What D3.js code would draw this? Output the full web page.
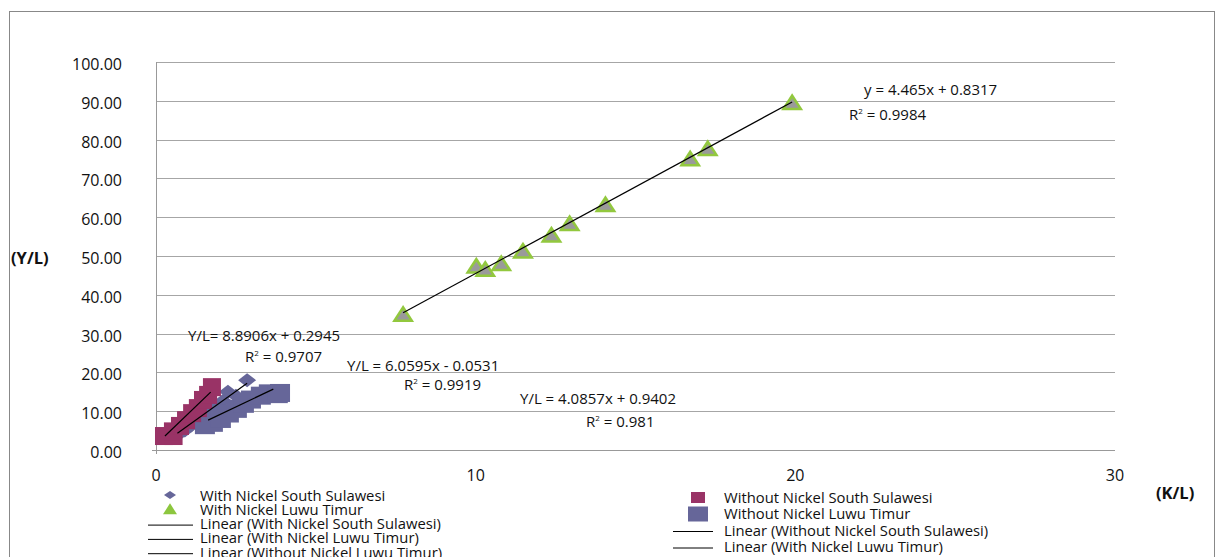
<!DOCTYPE html>
<meta charset="utf-8">
<style>
body { margin: 0; background: #fff; }
text { font-family: "Open Sans", "Noto Sans", sans-serif; fill: #111; }
.grid line { stroke: #a6a6a6; stroke-width: 1px; }
.trend { stroke: #000; stroke-width: 1.2px; fill: none; }
</style>
<svg width="1215" height="557"></svg>
<script src="https://cdn.jsdelivr.net/npm/d3@7/dist/d3.min.js"></script>
<script>

// With Nickel South Sulawesi (diamonds)
var withSS = [[0.7,4.0],[0.9,5.0],[1.1,6.3],[1.3,7.5],[1.5,8.8],[1.7,10.0],[1.9,11.3],[2.1,12.7],[2.25,15.0],[2.5,14.0],[2.85,18.0]];
// With Nickel Luwu Timur (triangles)
var withLT = [[7.73,34.8],[10.02,47.2],[10.3,46.4],[10.8,47.9],[11.48,51.1],[12.37,55.2],[12.94,58.2],[14.06,63.1],[16.71,74.9],[17.26,77.5],[19.9,89.4]];
// Without Nickel South Sulawesi (magenta squares)
var withoutSS = [[0.25,3.6],[0.55,3.6],[0.53,4.8],[0.75,6.2],[0.94,7.7],[1.13,9.5],[1.31,10.8],[1.47,12.9],[1.63,14.2],[1.75,16.2]];
// Without Nickel Luwu Timur (purple squares)
var withoutLT = [[1.53,6.4],[1.78,7.0],[2.03,8.0],[2.28,9.4],[2.53,10.6],[2.75,11.9],[2.97,13.0],[3.28,14.0],[3.53,14.6],[3.81,14.4],[3.88,14.7]];

// trendline end points [x0,y0,x1,y1]
var trends = [
  [0.67, 4.3, 2.85, 17.2],
  [7.73, 35.35, 19.9, 89.7],
  [0.28, 3.6, 1.71, 14.9],
  [1.63, 7.7, 3.67, 15.7]
];

var yTicks = [0,10,20,30,40,50,60,70,80,90,100];
var xTicks = [0,10,20,30];

var notes = [
  {t: "y = 4.465x + 0.8317", x: 864, y: 95},
  {t: "R", sup: "2", rest: " = 0.9984", x: 849, y: 120},
  {t: "Y/L= 8.8906x + 0.2945", x: 188, y: 341},
  {t: "R", sup: "2", rest: " = 0.9707", x: 245, y: 362},
  {t: "Y/L = 6.0595x - 0.0531", x: 347, y: 371},
  {t: "R", sup: "2", rest: " = 0.9919", x: 404, y: 390},
  {t: "Y/L = 4.0857x + 0.9402", x: 520, y: 404},
  {t: "R", sup: "2", rest: " = 0.981", x: 586, y: 427}
];

var svg = d3.select("svg");

var x = d3.scaleLinear().domain([0, 30]).range([156, 1115]),
    y = d3.scaleLinear().domain([0, 100]).range([450, 62]);

// outer border
svg.append("rect")
    .attr("x", 9.5).attr("y", 11.5)
    .attr("width", 1205).attr("height", 560)
    .attr("fill", "none").attr("stroke", "#888");

// gridlines
svg.append("g").attr("class", "grid")
  .selectAll("line").data(yTicks.slice(1)).enter().append("line")
    .attr("x1", x(0)).attr("x2", x(30))
    .attr("y1", function(d) { return Math.round(y(d)) + 0.5; })
    .attr("y2", function(d) { return Math.round(y(d)) + 0.5; });

// axes
svg.append("line").attr("x1", x(0) + 0.5).attr("x2", x(0) + 0.5)
    .attr("y1", y(100)).attr("y2", y(0) + 4).attr("stroke", "#999");
svg.append("line").attr("x1", x(0) - 4).attr("x2", x(30))
    .attr("y1", Math.round(y(0)) + 0.5).attr("y2", Math.round(y(0)) + 0.5).attr("stroke", "#999");

svg.append("g").selectAll("text").data(yTicks).enter().append("text")
    .attr("x", 122).attr("y", function(d) { return y(d) + 8; })
    .attr("text-anchor", "end")
    .style("font-size", "16px")
    .text(function(d) { return d3.format(".2f")(d); });

svg.append("g").selectAll("text").data(xTicks).enter().append("text")
    .attr("x", function(d) { return x(d); }).attr("y", 481)
    .attr("text-anchor", "middle")
    .style("font-size", "16px")
    .text(function(d) { return d; });

svg.append("text").attr("x", 11).attr("y", 264)
    .style("font-size", "16.5px").style("font-weight", "bold").text("(Y/L)");
svg.append("text").attr("x", 1156).attr("y", 499)
    .style("font-size", "16.5px").style("font-weight", "bold").text("(K/L)");

// markers
svg.append("g").selectAll("path").data(withSS).enter().append("path")
    .attr("d", "M0,-7L9,0L0,7L-9,0Z")
    .attr("transform", function(d) { return "translate(" + x(d[0]) + "," + y(d[1]) + ")"; })
    .attr("fill", "#666699");

svg.append("g").selectAll("rect").data(withoutLT).enter().append("rect")
    .attr("x", function(d) { return x(d[0]) - 10; })
    .attr("y", function(d) { return y(d[1]) - 9; })
    .attr("width", 20).attr("height", 18)
    .attr("fill", "#666699");

svg.append("g").selectAll("rect").data(withoutSS).enter().append("rect")
    .attr("x", function(d) { return x(d[0]) - 9; })
    .attr("y", function(d) { return y(d[1]) - 9; })
    .attr("width", 18).attr("height", 18)
    .attr("fill", "#993366");

var tri = svg.append("g").selectAll("g").data(withLT).enter().append("g")
    .attr("transform", function(d) { return "translate(" + x(d[0]) + "," + y(d[1]) + ")"; });
tri.append("path").attr("d", "M0,-10L11,7L-11,7Z").attr("fill", "#92c83e");
tri.append("path").attr("d", "M0,-5L6.5,4.5L-6.5,4.5Z").attr("fill", "#9a9a9a");

// trendlines
svg.append("g").selectAll("line").data(trends).enter().append("line")
    .attr("class", "trend")
    .attr("x1", function(d) { return x(d[0]); })
    .attr("y1", function(d) { return y(d[1]); })
    .attr("x2", function(d) { return x(d[2]); })
    .attr("y2", function(d) { return y(d[3]); });

// equation labels
var nt = svg.append("g").selectAll("text").data(notes).enter().append("text")
    .attr("x", function(d) { return d.x; }).attr("y", function(d) { return d.y; })
    .style("font-size", "15px");
nt.append("tspan").text(function(d) { return d.t; });
nt.filter(function(d) { return d.sup; }).append("tspan")
    .attr("dy", -6).style("font-size", "8px").text(function(d) { return d.sup; });
nt.filter(function(d) { return d.sup; }).append("tspan")
    .attr("dy", 6).text(function(d) { return d.rest; });

// legend
var legLeft = [
  {t: "With Nickel South Sulawesi", k: "diamond"},
  {t: "With Nickel Luwu Timur", k: "tri"},
  {t: "Linear (With Nickel South Sulawesi)", k: "line"},
  {t: "Linear (With Nickel Luwu Timur)", k: "line"},
  {t: "Linear (Without Nickel Luwu Timur)", k: "line"}
];
var legRight = [
  {t: "Without Nickel South Sulawesi", k: "sqM"},
  {t: "Without Nickel Luwu Timur", k: "sqP"},
  {t: "Linear (Without Nickel South Sulawesi)", k: "line"},
  {t: "Linear (With Nickel Luwu Timur)", k: "line"}
];

function legend(items, x0, tx, y0, step, lx0, lx1) {
  var g = svg.append("g").selectAll("g").data(items).enter().append("g")
      .attr("transform", function(d, i) { return "translate(0," + (y0 + i * step) + ")"; });
  g.append("text").attr("x", tx).attr("y", 5.5).style("font-size", "14.8px").text(function(d) { return d.t; });
  g.each(function(d) {
    var s = d3.select(this);
    if (d.k == "diamond") s.append("path").attr("d", "M0,-4L6,0L0,4L-6,0Z").attr("transform", "translate(" + x0 + ",0)").attr("fill", "#666699");
    if (d.k == "tri") s.append("path").attr("d", "M0,-6L7,5L-7,5Z").attr("transform", "translate(" + x0 + ",0)").attr("fill", "#8cc63e");
    if (d.k == "sqM") s.append("rect").attr("x", x0 - 7).attr("y", -5).attr("width", 14).attr("height", 11).attr("fill", "#993366");
    if (d.k == "sqP") s.append("rect").attr("x", x0 - 10).attr("y", -7).attr("width", 20).attr("height", 15).attr("fill", "#666699");
    if (d.k == "line") s.append("line").attr("x1", lx0).attr("x2", lx1).attr("y1", 1.5).attr("y2", 1.5).attr("stroke", "#000");
  });
}
legend(legLeft, 170, 200, 495, 14.3, 148, 193);
legend(legRight, 698, 724, 497, 16.5, 673, 713);

</script>
